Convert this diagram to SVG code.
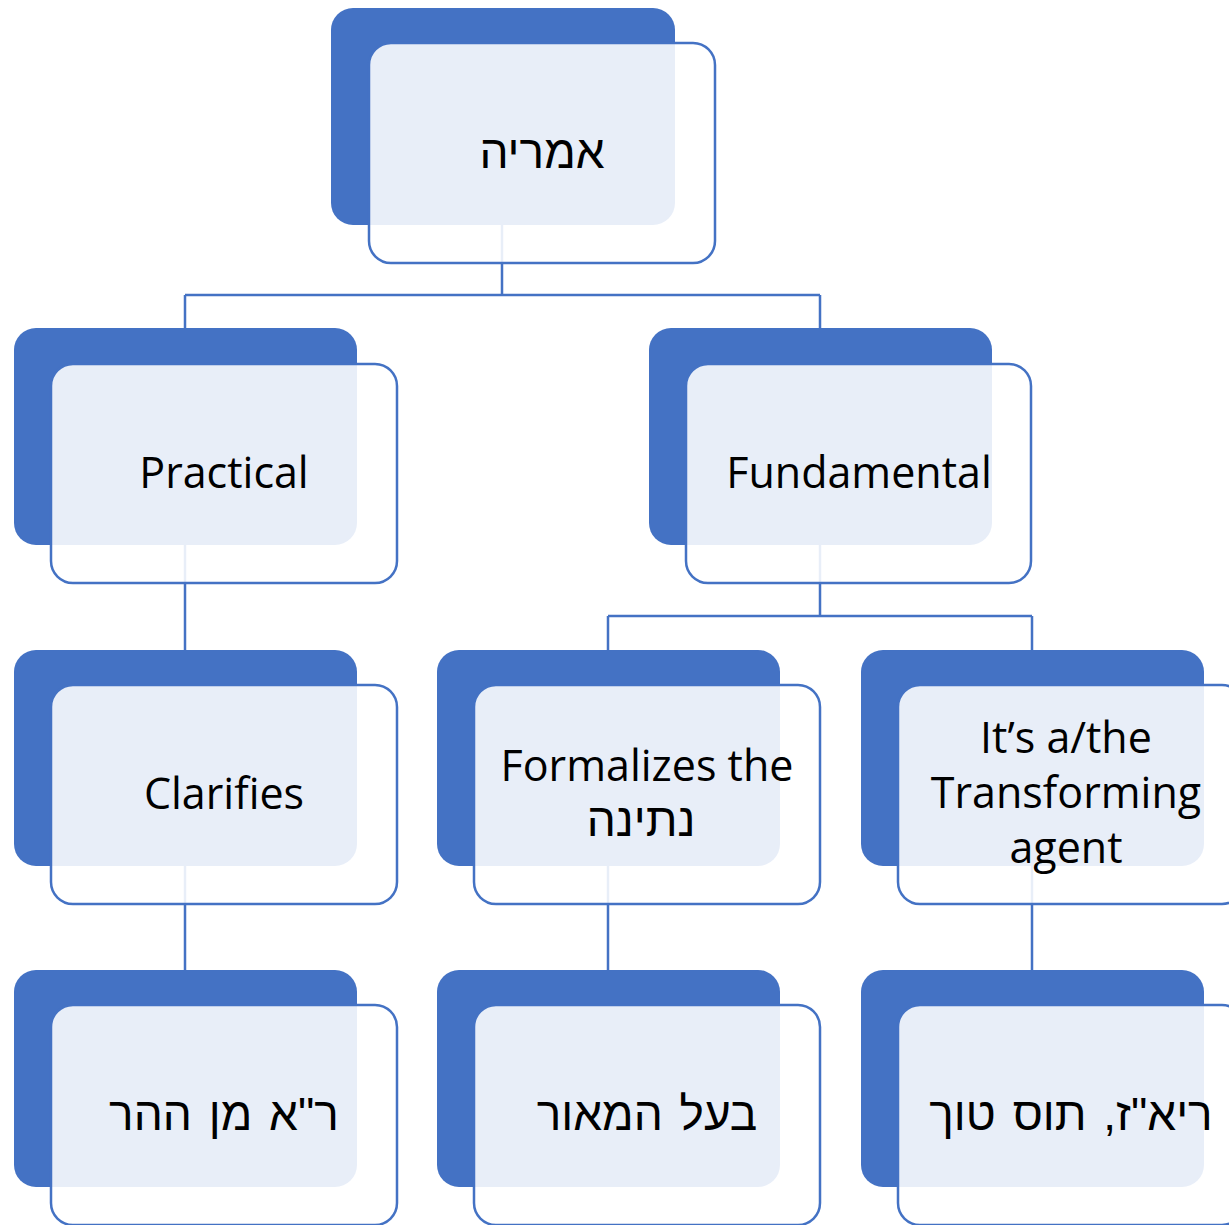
<svg xmlns="http://www.w3.org/2000/svg" width="1229" height="1225" viewBox="0 0 1229 1225">
<style>
.back{fill:#4472C4}
.front{fill:#FFFFFF;fill-opacity:0.88;stroke:#4472C4;stroke-width:2.5}
.conn{fill:none;stroke:#4472C4;stroke-width:2.5}
text{font-family:"Open Sans","Noto Sans","DejaVu Sans",sans-serif;font-size:43px;fill:#000;text-anchor:middle}
.he{direction:rtl;font-family:"Liberation Sans","DejaVu Sans",sans-serif;font-size:46px}
.wide{word-spacing:4px}
</style>
<rect width="1229" height="1225" fill="#FFFFFF"/>
<g id="connectors">
<path class="conn" d="M502,225 V295 M185,295 H820 M185,295 V328 M820,295 V328"/>
<path class="conn" d="M185,545 V650"/>
<path class="conn" d="M820,545 V616 M608,616 H1032 M608,616 V650 M1032,616 V650"/>
<path class="conn" d="M185,866 V970 M608,866 V970 M1032,866 V970"/>
</g>
<g id="node-amiria">
<rect class="back" x="331" y="8" width="344" height="217" rx="22"/>
<rect class="front" x="369" y="43" width="346" height="220" rx="22"/>
<text class="he" x="542" y="168">אמריה</text>
</g>
<g id="node-practical">
<rect class="back" x="14" y="328" width="343" height="217" rx="22"/>
<rect class="front" x="51" y="364" width="346" height="219" rx="22"/>
<text x="224" y="488">Practical</text>
</g>
<g id="node-fundamental">
<rect class="back" x="649" y="328" width="343" height="217" rx="22"/>
<rect class="front" x="686" y="364" width="345" height="219" rx="22"/>
<text x="859" y="488">Fundamental</text>
</g>
<g id="node-clarifies">
<rect class="back" x="14" y="650" width="343" height="216" rx="22"/>
<rect class="front" x="51" y="685" width="346" height="219" rx="22"/>
<text x="224" y="809">Clarifies</text>
</g>
<g id="node-formalizes">
<rect class="back" x="437" y="650" width="343" height="216" rx="22"/>
<rect class="front" x="474" y="685" width="346" height="219" rx="22"/>
<text x="647" y="781">Formalizes the</text>
<text class="he" x="641" y="836">נתינה</text>
</g>
<g id="node-transforming">
<rect class="back" x="861" y="650" width="343" height="216" rx="22"/>
<rect class="front" x="898" y="685" width="346" height="219" rx="22"/>
<text x="1066" y="753">It’s a/the</text>
<text x="1066" y="808">Transforming</text>
<text x="1066" y="863">agent</text>
</g>
<g id="node-ra-min-hahar">
<rect class="back" x="14" y="970" width="343" height="217" rx="22"/>
<rect class="front" x="51" y="1005" width="346" height="220" rx="22"/>
<text class="he wide" x="224" y="1130">ר"א מן ההר</text>
</g>
<g id="node-baal-hamaor">
<rect class="back" x="437" y="970" width="343" height="217" rx="22"/>
<rect class="front" x="474" y="1005" width="346" height="220" rx="22"/>
<text class="he wide" x="647" y="1130">בעל המאור</text>
</g>
<g id="node-riaz">
<rect class="back" x="861" y="970" width="343" height="217" rx="22"/>
<rect class="front" x="898" y="1005" width="346" height="220" rx="22"/>
<text class="he wide" x="1071" y="1130">ריא"ז, תוס טוך</text>
</g>
</svg>
